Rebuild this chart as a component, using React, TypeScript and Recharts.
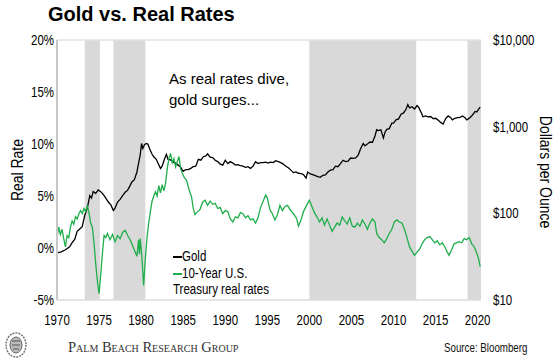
import { Legend, Line, LineChart, ReferenceArea, ReferenceLine, XAxis, YAxis } from "recharts";

const ARIAL = "'Liberation Sans', Arial, sans-serif";
const SQUEEZE = 0.82; // reference text is a narrow face; squeeze Liberation Sans to match

const yearTicks = [1970, 1975, 1980, 1985, 1990, 1995, 2000, 2005, 2010, 2015, 2020];
const rateTicks = [-5, 0, 5, 10, 15, 20];
const priceTicks = [10, 100, 1000, 10000];

// grey bands (year ranges)
const bandStart = [1973.3, 1976.7, 2000.0, 2018.8];
const bandEnd = [1975.1, 1980.5, 2012.7, 2020.4];

// 10-year real rate, %
const rateYears = [
  1970.0, 1970.2, 1970.4, 1970.6, 1970.8, 1971.0, 1971.2, 1971.4, 1971.6, 1971.8,
  1972.0, 1972.2, 1972.4, 1972.6, 1972.8, 1973.0, 1973.2, 1973.4, 1973.6, 1973.8,
  1974.0, 1974.2, 1974.4, 1974.6, 1974.8, 1975.0, 1975.2, 1975.4, 1975.6, 1975.8,
  1976.0, 1976.3, 1976.6, 1976.9, 1977.2, 1977.5, 1977.8, 1978.1, 1978.4, 1978.7,
  1979.0, 1979.3, 1979.5, 1979.7, 1979.8, 1979.9, 1980.1, 1980.3, 1980.5, 1980.7,
  1980.9, 1981.1, 1981.3, 1981.5, 1981.7, 1981.9, 1982.1, 1982.3, 1982.5, 1982.7,
  1982.9, 1983.1, 1983.3, 1983.5, 1983.7, 1983.9, 1984.1, 1984.3, 1984.5, 1984.7,
  1984.9, 1985.1, 1985.4, 1985.7, 1986.0, 1986.2, 1986.4, 1986.7, 1987.0, 1987.3,
  1987.6, 1987.9, 1988.2, 1988.5, 1988.8, 1989.1, 1989.4, 1989.7, 1990.0, 1990.3,
  1990.6, 1990.9, 1991.2, 1991.5, 1991.8, 1992.1, 1992.4, 1992.7, 1993.0, 1993.3,
  1993.6, 1993.9, 1994.2, 1994.5, 1994.8, 1995.0, 1995.3, 1995.6, 1995.9, 1996.2,
  1996.5, 1996.8, 1997.1, 1997.4, 1997.7, 1997.9, 1998.2, 1998.5, 1998.7, 1999.0,
  1999.3, 1999.6, 2000.0, 2000.3, 2000.6, 2000.9, 2001.2, 2001.5, 2001.8, 2002.1,
  2002.4, 2002.7, 2003.0, 2003.3, 2003.6, 2003.9, 2004.2, 2004.5, 2004.8, 2005.1,
  2005.4, 2005.7, 2006.0, 2006.3, 2006.6, 2006.9, 2007.2, 2007.5, 2007.8, 2008.0,
  2008.3, 2008.6, 2008.9, 2009.2, 2009.5, 2009.8, 2010.1, 2010.4, 2010.7, 2011.0,
  2011.3, 2011.6, 2011.9, 2012.2, 2012.5, 2012.8, 2013.1, 2013.4, 2013.7, 2014.0,
  2014.3, 2014.6, 2014.9, 2015.2, 2015.5, 2015.8, 2016.1, 2016.4, 2016.6, 2016.9,
  2017.2, 2017.5, 2017.8, 2018.1, 2018.4, 2018.7, 2019.0, 2019.3, 2019.6, 2019.9,
  2020.1, 2020.3,
];
const realRate = [
  1.0, 2.0, 1.3, 1.8, 0.9, 0.1, 1.2, 1.0, 2.0, 2.6,
  2.3, 3.0, 2.8, 3.3, 3.6, 3.3, 3.8, 3.5, 4.1, 3.4,
  2.4, 2.0, 0.5, -1.5, -3.2, -4.4, -2.5, -0.5, 1.2, 1.0,
  1.4, 0.8, 1.3, 0.6, 1.2, 0.9, 1.5, 1.7, 1.2, 0.8,
  0.2, -0.4, -0.8, 0.8, -0.6, 0.9, -1.0, -3.6, -1.0, 1.0,
  2.4, 3.5, 4.5, 5.0, 5.4, 5.0, 6.0, 5.3, 6.1, 5.5,
  6.2, 7.6, 8.6, 9.1, 8.2, 8.6, 7.8, 8.3, 8.8, 7.6,
  7.2, 6.8, 6.5, 5.6, 4.9, 3.8, 3.2, 3.5, 3.7, 4.4,
  4.6, 4.1, 4.5, 4.2, 4.3, 3.8, 3.9, 3.3, 3.6, 3.5,
  2.8, 2.5, 3.0, 2.9, 3.4, 3.3, 2.9, 3.1, 2.7, 2.8,
  2.4, 2.9, 3.9, 4.5, 5.1, 4.8, 3.7, 3.3, 2.7, 3.2,
  4.1, 3.6, 4.0, 4.1, 3.7, 3.5, 3.2, 2.8, 2.1, 2.7,
  3.5, 4.0, 4.6, 4.0, 3.4, 3.0, 2.5, 2.9, 2.2, 2.8,
  2.2, 1.6, 2.0, 2.4, 2.2, 3.0, 2.6, 2.3, 2.9, 2.1,
  2.0, 2.4, 2.1, 2.7, 2.3, 1.8, 2.4, 2.8, 2.5, 1.4,
  1.0, 0.8, 0.5, 0.9, 1.4, 1.8, 2.5, 2.7, 2.5, 2.4,
  1.8, 1.0, 0.1, -0.3, -0.7, -0.4, -0.1, 0.4, 0.8, 1.0,
  1.1, 0.8, 0.5, 0.7, 0.3, 0.5, 0.1, -0.4, -0.7, -0.2,
  0.4, 0.5, 0.6, 0.5, 0.9, 0.8, 1.0, 0.4, 0.1, -0.5,
  -1.0, -1.8,
];

// gold, $ per ounce
const goldYears = [
  1970.0, 1970.5, 1971.0, 1971.5, 1971.8, 1972.1, 1972.4, 1972.7, 1973.0, 1973.3,
  1973.6, 1973.9, 1974.1, 1974.3, 1974.6, 1974.9, 1975.2, 1975.5, 1975.8, 1976.1,
  1976.4, 1976.7, 1976.9, 1977.2, 1977.5, 1977.8, 1978.1, 1978.4, 1978.7, 1978.9,
  1979.2, 1979.5, 1979.7, 1979.9, 1980.05, 1980.2, 1980.4, 1980.6, 1980.8, 1981.0,
  1981.3, 1981.5, 1981.8, 1982.0, 1982.3, 1982.5, 1982.8, 1983.0, 1983.2, 1983.5,
  1983.8, 1984.1, 1984.4, 1984.7, 1985.0, 1985.3, 1985.6, 1985.9, 1986.2, 1986.5,
  1986.8, 1987.1, 1987.4, 1987.7, 1987.9, 1988.2, 1988.5, 1988.8, 1989.1, 1989.4,
  1989.7, 1990.0, 1990.3, 1990.6, 1990.9, 1991.2, 1991.5, 1991.8, 1992.1, 1992.4,
  1992.7, 1993.0, 1993.3, 1993.6, 1993.9, 1994.2, 1994.5, 1994.8, 1995.1, 1995.4,
  1995.7, 1996.0, 1996.3, 1996.6, 1996.9, 1997.2, 1997.5, 1997.8, 1998.1, 1998.4,
  1998.7, 1999.0, 1999.3, 1999.6, 1999.8, 2000.1, 2000.4, 2000.7, 2001.0, 2001.3,
  2001.6, 2001.9, 2002.2, 2002.5, 2002.8, 2003.1, 2003.4, 2003.7, 2004.0, 2004.3,
  2004.6, 2004.9, 2005.2, 2005.5, 2005.8, 2006.1, 2006.4, 2006.6, 2006.9, 2007.2,
  2007.5, 2007.8, 2008.0, 2008.2, 2008.5, 2008.8, 2009.0, 2009.2, 2009.5, 2009.8,
  2010.0, 2010.3, 2010.6, 2010.9, 2011.2, 2011.5, 2011.7, 2011.9, 2012.2, 2012.5,
  2012.8, 2013.0, 2013.3, 2013.5, 2013.8, 2014.1, 2014.4, 2014.7, 2015.0, 2015.3,
  2015.6, 2015.9, 2016.2, 2016.5, 2016.8, 2017.0, 2017.3, 2017.6, 2017.9, 2018.2,
  2018.5, 2018.7, 2018.9, 2019.2, 2019.5, 2019.7, 2019.9, 2020.1, 2020.3,
];
const goldPrice = [
  35, 36, 38, 41, 46, 50, 62, 66, 70, 95,
  115, 160, 150, 178, 170, 186, 178, 165, 150, 135,
  125, 108, 115, 135, 145, 160, 175, 185, 210, 230,
  245, 300, 380, 480, 640, 560, 620, 640, 630, 560,
  480, 450, 420, 380, 330, 350, 430, 480, 420, 415,
  390, 380, 360, 340, 305, 320, 320, 330, 345, 350,
  420, 410, 450, 460, 485, 445, 440, 410, 395, 370,
  360, 410, 375, 395, 380, 360, 365, 355, 350, 340,
  345, 330, 350, 395, 375, 385, 385, 390, 380, 390,
  385, 405, 395, 385, 370, 350, 335, 315, 295, 300,
  290, 288, 280, 255, 300, 285, 280, 272, 265, 260,
  275, 278, 300, 315, 320, 350, 345, 375, 410, 395,
  400, 435, 430, 435, 470, 560, 640, 600, 630, 665,
  660, 780, 920, 900, 920, 740, 870, 930, 950, 1100,
  1100, 1200, 1230, 1390, 1440, 1600, 1800, 1650, 1700, 1600,
  1750, 1670, 1450, 1300, 1330, 1300, 1310, 1240, 1250, 1190,
  1120, 1070, 1240, 1330, 1270, 1200, 1250, 1270, 1280, 1330,
  1270, 1200, 1230, 1300, 1410, 1500, 1480, 1580, 1680,
];

const rateData = rateYears.map((year, i) => ({ year, rate: realRate[i] }));
const goldData = goldYears.map((year, i) => ({ year, gold: goldPrice[i] }));
const bands = bandStart.map((s, i) => ({ s, e: bandEnd[i] }));

// svg tick squeezed horizontally
const NarrowTick = ({ x, y, payload, anchor, dy, fmt }: any) => (
  <g transform={`translate(${x},${y}) scale(${SQUEEZE},1)`}>
    <text x={0} y={0} dy={dy} textAnchor={anchor} fill="#000" fontSize={14} fontFamily={ARIAL}>
      {fmt(payload.value)}
    </text>
  </g>
);

const Narrow = ({ children, size = 14, scale = SQUEEZE, style }: any) => (
  <span
    style={{
      display: "inline-block",
      fontFamily: ARIAL,
      fontSize: size,
      transform: `scaleX(${scale})`,
      transformOrigin: "0 50%",
      whiteSpace: "nowrap",
      ...style,
    }}
  >
    {children}
  </span>
);

const dash = (color: string) => (
  <span style={{ display: "inline-block", width: 11, height: 2, background: color, verticalAlign: "middle", marginRight: 0 }} />
);

const LegendBox = () => (
  <div style={{ lineHeight: "16.5px", color: "#000" }}>
    <div>
      <Narrow>
        {dash("#000")}
        Gold
      </Narrow>
    </div>
    <div>
      <Narrow>
        {dash("#1fae4b")}
        10-Year U.S.
      </Narrow>
    </div>
    <div>
      <Narrow>Treasury real rates</Narrow>
    </div>
  </div>
);

const Rotated = ({ x, y, angle, children }: any) => (
  <div
    style={{
      position: "absolute",
      left: x,
      top: y,
      transform: `translate(-50%, -50%) rotate(${angle}deg) scaleX(${SQUEEZE})`,
      whiteSpace: "nowrap",
      fontFamily: ARIAL,
      fontSize: 17,
      lineHeight: "20px",
      color: "#000",
    }}
  >
    {children}
  </div>
);

export default function App() {
  return (
    <div style={{ position: "absolute", left: 0, top: 0, width: 560, height: 364, background: "#fff", overflow: "hidden" }}>
      <div style={{ position: "absolute", left: 48, top: 2, fontFamily: ARIAL, fontWeight: 700, fontSize: 20, lineHeight: "24px" }}>
        Gold vs. Real Rates
      </div>

      <LineChart width={560} height={364} data={rateData} margin={{ top: 40, left: 12, right: 15, bottom: 34 }}>
        {bands.map((b, i) => (
          <ReferenceArea key={i} x1={b.s} x2={b.e} yAxisId="left" fill="#d9d9d9" fillOpacity={1} stroke="none" />
        ))}
        <ReferenceLine y={20} yAxisId="left" stroke="#e2e2e2" strokeWidth={1.5} />
        <XAxis
          dataKey="year"
          type="number"
          domain={[1970, 2020.4]}
          ticks={yearTicks}
          allowDataOverflow
          tickLine={false}
          tickSize={0}
          tickMargin={15}
          axisLine={{ stroke: "#dcdcdc", strokeWidth: 1.5 }}
          tick={(p: any) => <NarrowTick {...p} anchor="middle" dy="0.71em" fmt={(v: number) => String(v)} />}
          height={30}
        />
        <YAxis
          yAxisId="left"
          domain={[-5, 20]}
          ticks={rateTicks}
          allowDataOverflow
          tickLine={false}
          tickSize={0}
          tickMargin={3}
          axisLine={{ stroke: "#c8c8c8", strokeWidth: 2 }}
          tick={(p: any) => <NarrowTick {...p} anchor="end" dy="0.355em" fmt={(v: number) => `${v}%`} />}
          width={45}
        />
        <YAxis
          yAxisId="right"
          orientation="right"
          scale="log"
          domain={[10, 10000]}
          ticks={priceTicks}
          allowDataOverflow
          tickLine={false}
          tickSize={0}
          tickMargin={12}
          axisLine={false}
          tick={(p: any) => (
            <NarrowTick {...p} anchor="start" dy="0.355em" fmt={(v: number) => `$${v.toLocaleString("en-US")}`} />
          )}
          width={64}
        />
        <Line
          data={goldData}
          yAxisId="right"
          dataKey="gold"
          stroke="#000"
          strokeWidth={1.3}
          dot={false}
          type="linear"
          isAnimationActive={false}
        />
        <Line
          yAxisId="left"
          dataKey="rate"
          stroke="#1fae4b"
          strokeWidth={1.3}
          dot={false}
          type="linear"
          isAnimationActive={false}
        />
        <Legend
          verticalAlign="middle"
          align="center"
          wrapperStyle={{ left: 173, top: 248, width: 140 }}
          content={() => <LegendBox />}
        />
      </LineChart>

      <div style={{ position: "absolute", left: 169, top: 68, fontFamily: ARIAL, fontSize: 15, lineHeight: "21px", color: "#000" }}>
        As real rates dive,
        <br />
        gold surges...
      </div>

      <Rotated x={18} y={170} angle={-90}>Real Rate</Rotated>
      <Rotated x={545} y={172} angle={90}>Dollars per Ounce</Rotated>

      <svg style={{ position: "absolute", left: 3, top: 330 }} width={26} height={30}>
        <ellipse cx={13} cy={15} rx={10} ry={12} fill="none" stroke="#777" strokeWidth={1.5} strokeDasharray="2 1" />
        <ellipse cx={13} cy={15} rx={6} ry={8} fill="#bbb" stroke="#666" strokeWidth={1} />
        <path d="M9 11 L17 11 M9 15 L17 15 M10 19 L16 19" stroke="#555" strokeWidth={1} />
      </svg>
      <div
        style={{
          position: "absolute",
          left: 68,
          top: 338,
          fontFamily: "'Liberation Serif', 'Times New Roman', serif",
          fontVariant: "small-caps",
          fontSize: 14.5,
          lineHeight: "18px",
          color: "#333",
          whiteSpace: "nowrap",
        }}
      >
        Palm Beach Research Group
      </div>
      <div style={{ position: "absolute", left: 444, top: 339, lineHeight: "16px", color: "#111" }}>
        <Narrow size={13} scale={0.75}>Source: Bloomberg</Narrow>
      </div>
    </div>
  );
}
